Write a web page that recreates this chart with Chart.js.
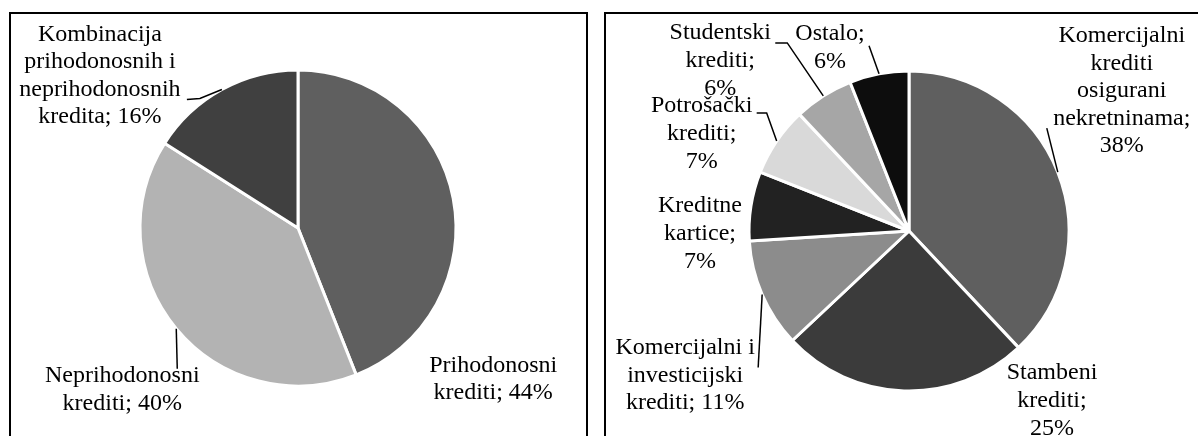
<!DOCTYPE html>
<html>
<head>
<meta charset="utf-8">
<script src="https://cdn.jsdelivr.net/npm/chart.js@4.4.1/dist/chart.umd.min.js"></script>
<style>
html,body{margin:0;padding:0;background:#fff;width:1198px;height:436px;overflow:hidden;}
.panel{position:absolute;top:12px;height:440px;border:2px solid #000;border-bottom:none;box-sizing:border-box;}
#p1{left:9px;width:579px;}
#p2{left:604px;width:640px;}
canvas{position:absolute;left:0;top:0;}
</style>
</head>
<body>
<div class="panel" id="p1"></div>
<div class="panel" id="p2"></div>
<canvas id="c1" width="1198" height="436"></canvas>
<canvas id="c2" width="1198" height="436"></canvas>
<script>
// ---- data ----
const leftCategories = ['Prihodonosni krediti', 'Neprihodonosni krediti', 'Kombinacija prihodonosnih i neprihodonosnih kredita'];
const leftValues = [44, 40, 16];
const leftColors = ['#5f5f5f', '#b3b3b3', '#404040'];

const rightCategories = ['Komercijalni krediti osigurani nekretninama', 'Stambeni krediti', 'Komercijalni i investicijski krediti', 'Kreditne kartice', 'Potrošački krediti', 'Studentski krediti', 'Ostalo'];
const rightValues = [38, 25, 11, 7, 7, 6, 6];
const rightColors = ['#5f5f5f', '#3b3b3b', '#8c8c8c', '#222222', '#d9d9d9', '#a6a6a6', '#0d0d0d'];

// ---- label layout (offsets relative to each slice's outer mid-point) ----
const leftLabelLayout = [
  {dx: 40, dy: 179, wrap: 170},
  {dx: -54, dy: 59, wrap: 170, leader: [[1, 40]]},
  {dx: -122, dy: -15.6, wrap: 165, leader: [[-22, 9], [-35, 10]]}
];
const rightLabelLayout = [
  {dx: 64, dy: -83, wrap: 145, leader: [[-11, -44]]},
  {dx: 148, dy: 8, wrap: 100},
  {dx: -77, dy: 79, wrap: 150, leader: [[-4, 73]]},
  {dx: -51, dy: 26, wrap: 95},
  {dx: -75, dy: -9, wrap: 104, leader: [[-10, -28], [-20, -28]]},
  {dx: -103, dy: -37, wrap: 104, leader: [[-36, -53], [-48, -53]]},
  {dx: -49, dy: -28, wrap: 90, leader: [[-10, -28]]}
];

const FONT = '24px "Liberation Serif", "Times New Roman", serif';
const LINE_H = 27.6;
const W = 1198, H = 436, BW = 3;

function wrapText(ctx, text, maxW) {
  const words = text.split(' ');
  const lines = [];
  let cur = '';
  for (const w of words) {
    const t = cur ? cur + ' ' + w : w;
    if (cur && ctx.measureText(t).width > maxW) { lines.push(cur); cur = w; }
    else cur = t;
  }
  if (cur) lines.push(cur);
  return lines;
}

const pieLabels = {
  id: 'pieLabels',
  afterDatasetsDraw(chart, args, opts) {
    const ctx = chart.ctx;
    const meta = chart.getDatasetMeta(0);
    const cats = chart.data.labels;
    const vals = chart.data.datasets[0].data;
    ctx.save();
    ctx.font = FONT;
    ctx.fillStyle = '#000';
    ctx.textAlign = 'center';
    ctx.textBaseline = 'alphabetic';
    meta.data.forEach((arc, i) => {
      const p = arc.getProps(['x', 'y', 'startAngle', 'endAngle', 'outerRadius'], true);
      const mid = (p.startAngle + p.endAngle) / 2;
      const ax = p.x + Math.cos(mid) * p.outerRadius;
      const ay = p.y + Math.sin(mid) * p.outerRadius;
      const L = opts.layout[i];
      if (L.leader) {
        ctx.beginPath();
        ctx.moveTo(ax, ay);
        L.leader.forEach(([dx, dy]) => ctx.lineTo(ax + dx, ay + dy));
        ctx.strokeStyle = '#000';
        ctx.lineWidth = 1.5;
        ctx.stroke();
      }
      const lines = wrapText(ctx, cats[i] + '; ' + vals[i] + '%', L.wrap);
      const cx = ax + L.dx, cy = ay + L.dy;
      lines.forEach((ln, k) => ctx.fillText(ln, cx, cy + 8 + (k - (lines.length - 1) / 2) * LINE_H));
    });
    ctx.restore();
  }
};

function makePie(id, cats, vals, colors, layout, cx, cy, r) {
  const R = r + BW / 2;
  return new Chart(document.getElementById(id), {
    type: 'pie',
    data: {
      labels: cats,
      datasets: [{
        data: vals,
        backgroundColor: colors,
        borderColor: '#ffffff',
        borderWidth: BW,
        hoverOffset: 0,
        offset: 0
      }]
    },
    options: {
      responsive: false,
      animation: false,
      events: [],
      layout: {padding: {left: cx - R, right: W - (cx + R), top: cy - R, bottom: H - (cy + R)}},
      plugins: {
        legend: {display: false},
        tooltip: {enabled: false},
        title: {display: false},
        pieLabels: {layout: layout}
      }
    },
    plugins: [pieLabels]
  });
}

makePie('c1', leftCategories, leftValues, leftColors, leftLabelLayout, 298, 228, 158);
makePie('c2', rightCategories, rightValues, rightColors, rightLabelLayout, 909, 231, 160);
</script>
</body>
</html>
